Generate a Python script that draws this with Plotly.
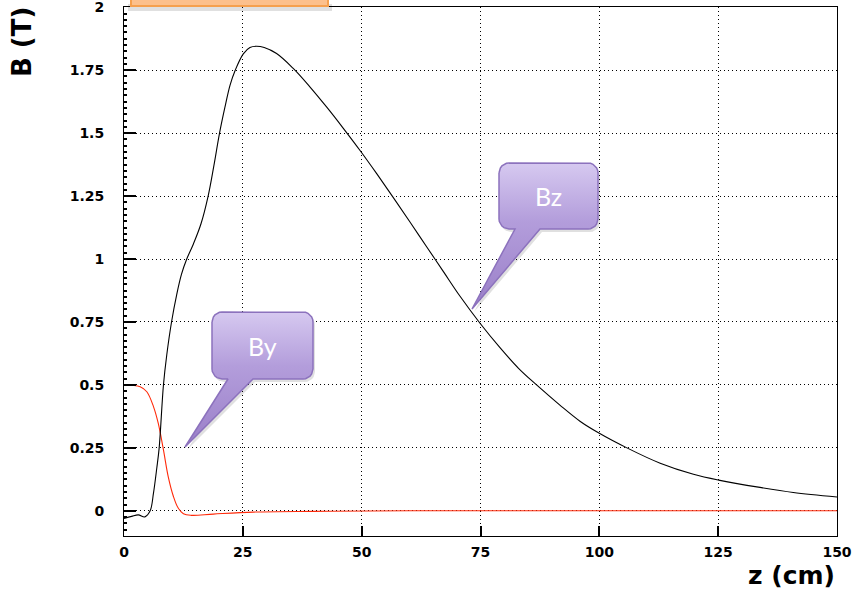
import math
import plotly.graph_objects as go

# Longitudinal field component Bz along the axis
z_bz = [0.0, 1.6, 3.0, 4.4, 5.5, 6.2, 6.9, 7.4, 8.3, 9.0, 10.0, 11.1, 12.1, 13.2,
        14.6, 16.2, 17.7, 18.9, 20.1, 21.2, 22.3, 23.4, 25.1, 26.5, 27.8, 29.5,
        32.1, 35.6, 39.1, 42.7, 46.1, 49.7, 53.2, 56.7, 60.2, 63.7, 67.2, 70.7,
        74.9, 79.1, 83.0, 86.8, 91.7, 96.0, 100.0, 105.8, 112.8, 119.8, 125.1,
        133.8, 140.8, 150.0]
bz = [-0.030, -0.022, -0.016, -0.024, 0.000, 0.070, 0.170, 0.250, 0.500, 0.620,
      0.750, 0.860, 0.940, 1.000, 1.060, 1.140, 1.250, 1.370, 1.500, 1.600, 1.690,
      1.750, 1.815, 1.840, 1.845, 1.840, 1.816, 1.757, 1.684, 1.602, 1.520, 1.430,
      1.338, 1.243, 1.146, 1.048, 0.950, 0.852, 0.745, 0.648, 0.566, 0.500, 0.420,
      0.355, 0.308, 0.250, 0.189, 0.145, 0.122, 0.093, 0.073, 0.055]

# Transverse field component By
z_by = [0.0, 3.4, 4.8, 6.2, 7.2, 8.3, 9.3, 10.4, 11.4, 12.5, 14.2, 18.8, 27.2,
        40.0, 60.0, 150.0]
by = [0.500, 0.493, 0.473, 0.414, 0.348, 0.242, 0.136, 0.057, 0.011, -0.012,
      -0.018, -0.013, -0.005, -0.002, 0.0, 0.0]

x_ticks = [0, 25, 50, 75, 100, 125, 150]
y_ticks = [0, 0.25, 0.5, 0.75, 1, 1.25, 1.5, 1.75, 2]
y_labels = ["0", "0.25", "0.5", "0.75", "1", "1.25", "1.5", "1.75", "2"]

X_RANGE = [0, 150]
Y_RANGE = [-0.1, 2.001]

W, H = 856, 591
ML, MR, MT, MB = 124, 19, 7, 55
PW, PH = W - ML - MR, H - MT - MB


def px2data(px, py):
    """Pixel position on the page -> data coordinates."""
    zx = X_RANGE[0] + (px - ML) / PW * (X_RANGE[1] - X_RANGE[0])
    by_ = Y_RANGE[1] - (py - MT) / PH * (Y_RANGE[1] - Y_RANGE[0])
    return zx, by_


def callout_outline(x0, y0, x1, y1, base_l, base_r, tip, r=10, n=6):
    """Rounded box with a pointer tail, in pixel coordinates."""
    pts = []

    def arc(cx, cy, a0, a1):
        for i in range(n + 1):
            a = math.radians(a0 + (a1 - a0) * i / n)
            pts.append((cx + r * math.cos(a), cy + r * math.sin(a)))

    arc(x0 + r, y0 + r, 180, 270)
    arc(x1 - r, y0 + r, 270, 360)
    arc(x1 - r, y1 - r, 0, 90)
    pts.append((base_r, y1))
    pts.append(tip)
    pts.append((base_l, y1))
    arc(x0 + r, y1 - r, 90, 180)
    pts.append(pts[0])
    return pts


fig = go.Figure()

callouts = [
    dict(box=(212, 312, 313, 379), base=(228, 253), tip=(185, 447), text="By"),
    dict(box=(499, 163, 598, 229), base=(515, 540), tip=(472, 309), text="Bz"),
]

for c in callouts:
    x0, y0, x1, y1 = c["box"]
    pts = callout_outline(x0, y0, x1, y1, c["base"][0], c["base"][1], c["tip"])
    # soft drop shadow
    sh = [px2data(p[0] + 2, p[1] + 3) for p in pts]
    fig.add_trace(go.Scatter(
        x=[p[0] for p in sh], y=[p[1] for p in sh], mode="lines",
        fill="toself", fillcolor="rgba(0,0,0,0.12)",
        line=dict(width=0), hoverinfo="skip", showlegend=False))

for c in callouts:
    x0, y0, x1, y1 = c["box"]
    pts = callout_outline(x0, y0, x1, y1, c["base"][0], c["base"][1], c["tip"])
    dp = [px2data(*p) for p in pts]
    fig.add_trace(go.Scatter(
        x=[p[0] for p in dp], y=[p[1] for p in dp], mode="lines",
        fill="toself",
        fillgradient=dict(type="vertical",
                          colorscale=[[0, "#9a7fc8"], [0.6, "#b39ddb"], [1, "#d6c9f0"]]),
        line=dict(color="#8c72bd", width=1.5),
        hoverinfo="skip", showlegend=False))
    cx, cy = px2data((x0 + x1) / 2, (y0 + y1) / 2)
    fig.add_annotation(x=cx, y=cy, xref="x", yref="y", text=c["text"],
                       showarrow=False,
                       font=dict(family="Lato", size=25, color="white"))

fig.add_trace(go.Scatter(x=z_by, y=by, mode="lines", name="By",
                         line=dict(color="#ff2a0a", width=1.1, shape="spline",
                                   smoothing=1.0),
                         showlegend=False))
fig.add_trace(go.Scatter(x=z_bz, y=bz, mode="lines", name="Bz",
                         line=dict(color="black", width=1.1, shape="spline",
                                   smoothing=1.0),
                         showlegend=False))

# orange banner peeking in at the top edge, with its shadow
fig.add_shape(type="rect", xref="paper", yref="paper", layer="above",
              x0=(128 - ML) / PW, x1=(332 - ML) / PW,
              y0=(H - MB - 11) / PH, y1=(H - MB - 4) / PH,
              fillcolor="rgba(0,0,0,0.12)", line=dict(width=0))
fig.add_shape(type="rect", xref="paper", yref="paper", layer="above",
              x0=(131 - ML) / PW, x1=(328 - ML) / PW,
              y0=(H - MB - 6) / PH, y1=(H - MB + 20) / PH,
              fillcolor="#fcc08c", line=dict(color="#f5a04e", width=2))

tick_font = dict(family="DejaVu Sans", size=14, color="black", weight="bold")

fig.update_xaxes(range=X_RANGE, tickvals=x_ticks, ticks="inside", ticklen=10,
                 tickwidth=1.5, tickcolor="black", automargin=False,
                 ticklabeloverflow="allow",
                 showline=True, linecolor="black", linewidth=1, mirror=True,
                 showgrid=True, gridcolor="black", gridwidth=1, griddash="1px,3px",
                 zeroline=False, tickfont=tick_font, ticklabelstandoff=3)
fig.update_yaxes(range=Y_RANGE, tickvals=y_ticks, ticktext=y_labels,
                 ticks="inside", ticklen=12, tickwidth=1.5, tickcolor="black",
                 automargin=False, ticklabeloverflow="allow",
                 minor=dict(ticks="inside", ticklen=3, dtick=0.025,
                            tickcolor="black", showgrid=False),
                 showline=True, linecolor="black", linewidth=1, mirror=True,
                 showgrid=True, gridcolor="black", gridwidth=1, griddash="1px,3px",
                 zeroline=False, tickfont=tick_font, ticklabelstandoff=16)

fig.add_annotation(text="z (cm)", xref="paper", yref="paper",
                   x=1.0, y=-(575 - (H - MB)) / PH, xanchor="right", yanchor="middle",
                   showarrow=False,
                   font=dict(family="DejaVu Sans", size=25, color="black", weight="bold"))
fig.add_annotation(text="B (T)", xref="paper", yref="paper",
                   x=-(ML - 22) / PW, y=((H - MB) - 42) / PH, xanchor="center",
                   yanchor="middle", textangle=-90, showarrow=False,
                   font=dict(family="DejaVu Sans", size=26, color="black", weight="bold"))

fig.update_layout(width=W, height=H, margin=dict(l=ML, r=MR, t=MT, b=MB, autoexpand=False),
                  paper_bgcolor="white", plot_bgcolor="white", showlegend=False)

fig.write_html("out.html")
